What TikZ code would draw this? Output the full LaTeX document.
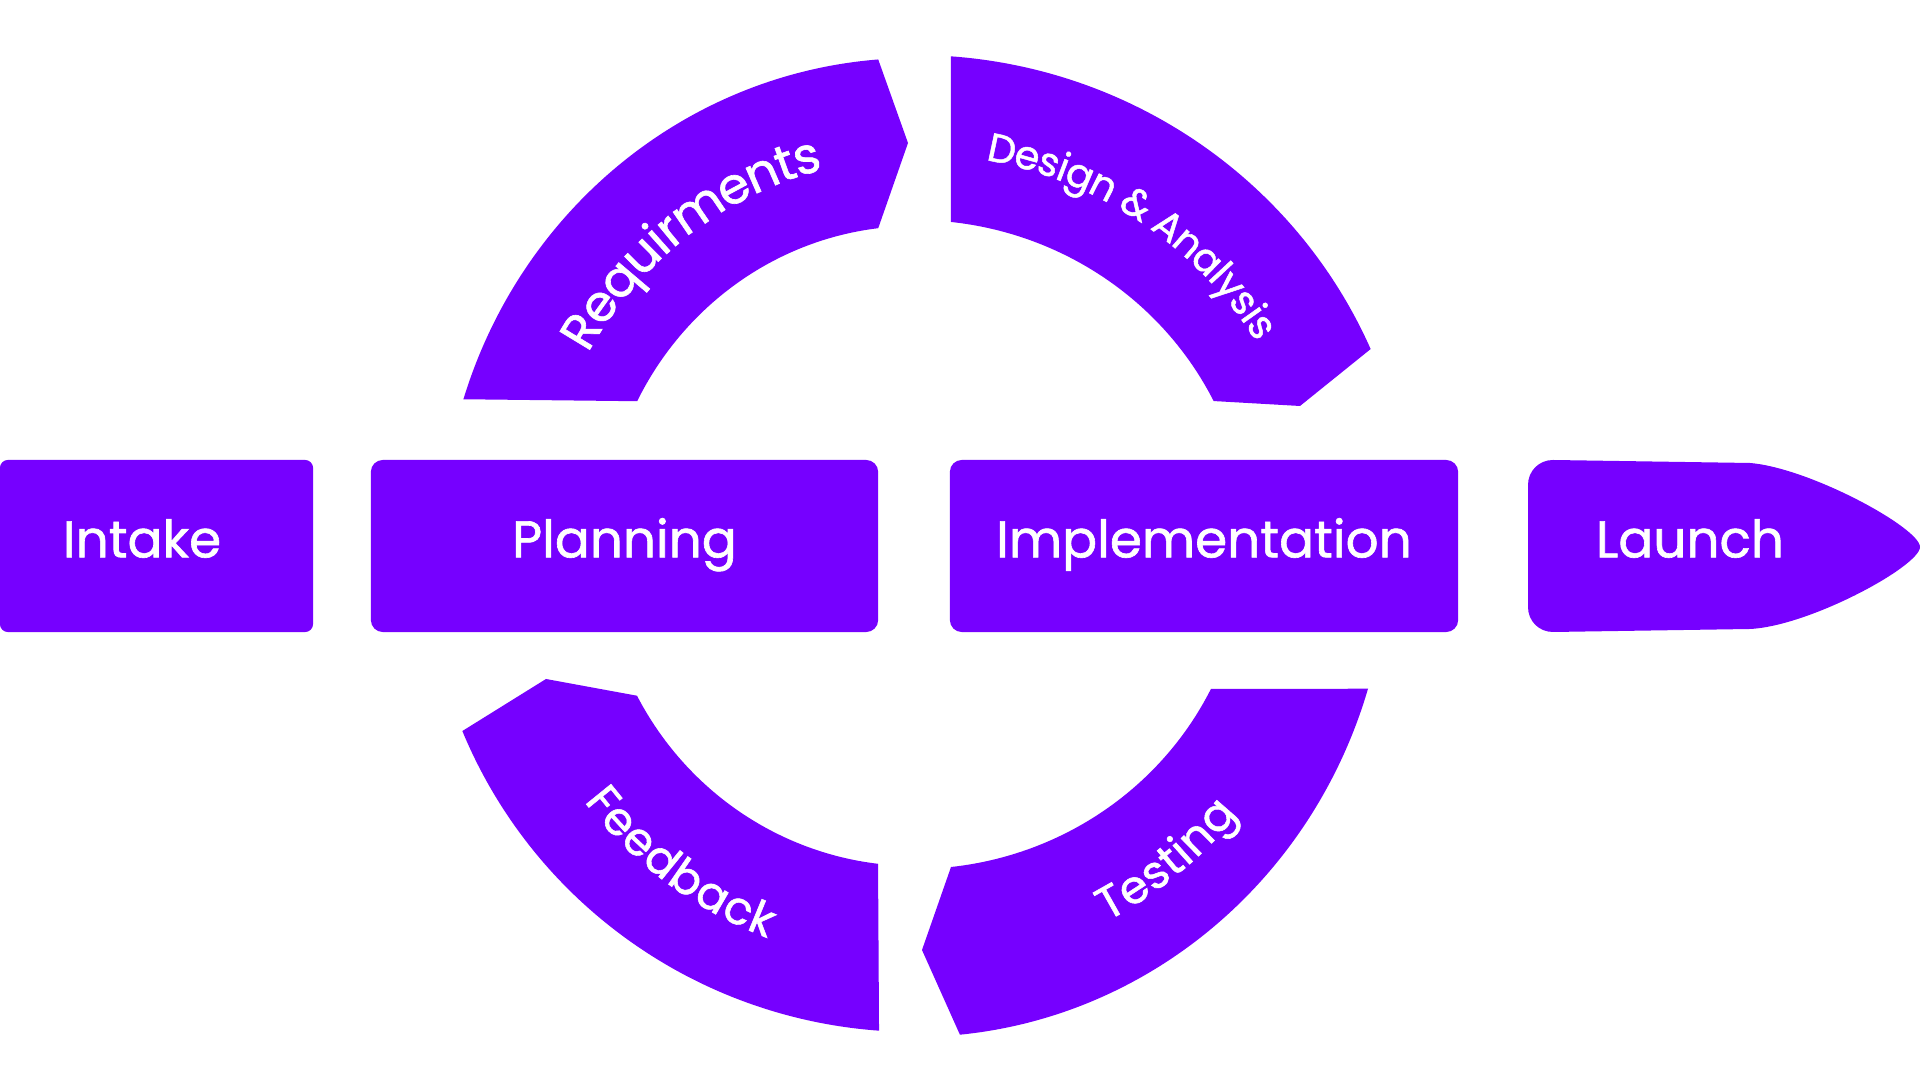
\documentclass[tikz,border=0pt]{standalone}
\usepackage{fontspec}
\setmainfont{Poppins}[FakeBold=1.2]
\usetikzlibrary{positioning,decorations.text}
\definecolor{mainc}{HTML}{7600FF}
\newcommand{\boxfont}{\fontsize{14.7}{16}\selectfont}
\tikzset{
  stage/.style={fill=mainc,rounded corners=0.12cm,minimum height=1.72cm,inner sep=0pt,
    text=white,font=\boxfont,text height=0.75em,text depth=0.1em},
  stagetext/.style={text=white,font=\boxfont,text height=0.75em,text depth=0.1em,inner sep=0pt},
  band/.style={fill=mainc},
  bandtext/.style 2 args={decorate,decoration={text along path,
    text={|\fontsize{#1}{16}\selectfont|#2},text align=center,text color=white,raise=-4.5pt}},
}

\begin{document}
\begin{tikzpicture}[x=0.01cm,y=-0.01cm]
  \fill[white] (0,0) rectangle (1920,1080);
  \useasboundingbox (0,0) rectangle (1920,1080);
  \coordinate (hub) at (914.5,546);
  % stages in the middle row
  \node[stage,rounded corners=0.08cm,minimum width=3.13cm,text width=1.87cm,inner xsep=0.63cm,align=left] (intake) at (156.5,546) {Intake};
  \node[stage,minimum width=5.07cm] (plan) at (624.5,546) {Planning};
  \node[stage,minimum width=5.08cm] (impl) at (1204,546) {Implementation};
  \fill[mainc] (1528,485) .. controls (1528,471) and (1539,460) .. (1553,460) -- (1750,463)
    .. controls (1810,468) and (1920,528) .. (1920,547)
    .. controls (1920,566) and (1810,626) .. (1750,629) -- (1553,632)
    .. controls (1539,632) and (1528,621) .. (1528,607) -- cycle;
  \node[stagetext] (launch) at (1690,546) {Launch};
  % the cycle round the middle
  \fill[band] ([shift={(hub)}]197.5:473 and 488) arc[start angle=197.5,end angle=265.6,x radius=473,y radius=488]
    -- (908,143) -- ([shift={(hub)}]263.3:311 and 320) arc[start angle=263.3,end angle=206.9,x radius=311,y radius=320] -- cycle;
  \path[bandtext={14.3}{Requirments}] ([shift={(hub)}]200:392 and 404) arc[start angle=200,end angle=266,x radius=392,y radius=404];
  \fill[band] ([shift={(hub)}]274.2:498 and 491) arc[start angle=274.2,end angle=336.35,x radius=498,y radius=491]
    -- (1300,406) -- ([shift={(hub)}]333.6:334 and 326) arc[start angle=333.6,end angle=276.27,x radius=334,y radius=326] -- cycle;
  \path[bandtext={11.3}{Design {\&} Analysis}] ([shift={(hub)}]276:416 and 408) arc[start angle=276,end angle=333,x radius=416,y radius=408];
  \fill[band] (1211,689) -- ([shift={(hub)}]16.9:474 and 491) arc[start angle=16.9,end angle=84.5,x radius=474,y radius=491]
    -- (922,950) -- ([shift={(hub)}]83.66:330.6 and 323) arc[start angle=83.66,end angle=26.25,x radius=330.6,y radius=323] -- cycle;
  \path[bandtext={13}{Testing}] ([shift={(hub)}]80:402 and 407) arc[start angle=80,end angle=22,x radius=402,y radius=407];
  \fill[band] (546,679) -- ([shift={(hub)}]152.1:314 and 320) arc[start angle=152.1,end angle=96.67,x radius=314,y radius=320]
    -- ([shift={(hub)}]94.16:489 and 486) arc[start angle=94.16,end angle=157.62,x radius=489,y radius=486] -- cycle;
  \path[bandtext={13}{Feedback}] ([shift={(hub)}]156:401 and 403) arc[start angle=156,end angle=97,x radius=401,y radius=403];
\end{tikzpicture}
\end{document}
